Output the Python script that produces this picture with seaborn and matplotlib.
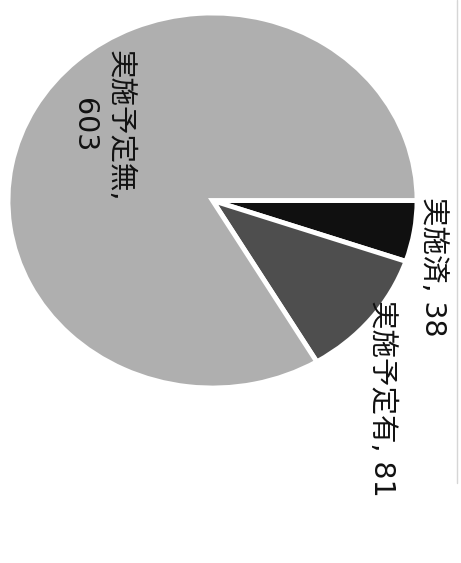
import numpy as np
import seaborn as sns
import matplotlib.pyplot as plt
from matplotlib.lines import Line2D

# Data
categories = ["実施済", "実施予定有", "実施予定無"]
counts = [38, 81, 603]
slice_colors = ["#101010", "#4e4e4e", "#afafaf"]

sns.set_theme(style="white")
# DejaVu first for the wide digits, CJK glyphs fall back to Noto
plt.rcParams["font.family"] = ["DejaVu Sans", "Noto Sans CJK JP"]

fig = plt.figure(figsize=(4.61, 5.63), dpi=100)
fig.patch.set_facecolor("white")

# axes placed so the pie fills the upper part of the page (scan is slightly squashed)
ax = fig.add_axes([8 / 461, 1 - 388 / 563, 409 / 461, 375 / 563])
wedges, _ = ax.pie(counts, colors=slice_colors, startangle=0, counterclock=False,
                   radius=1.0, wedgeprops={"edgecolor": "white", "linewidth": 3.5})
ax.set_aspect("auto")
ax.set_xlim(-1, 1)
ax.set_ylim(-1, 1)
ax.axis("off")

# labels, rotated like the scanned page (reading top to bottom)
labels = [f"{c}, {n}" for c, n in zip(categories, counts)]
ax.text(1.076, 0.02, labels[0], rotation=-90, ha="center", va="top",
        fontsize=20.5, color="#111111")
ax.text(0.83, -0.53, labels[1], rotation=-90, ha="center", va="top",
        fontsize=20.5, color="#111111")
ax.text(-0.54, 0.40, f"{categories[2]},\n{counts[2]}", rotation=-90,
        ha="center", va="center", multialignment="center",
        fontsize=20.5, color="#111111", linespacing=1.35)

# faint page edge from the scan
fig.add_artist(Line2D([0.991, 0.991], [0.142, 1.0], color="#d6d6d6", lw=1))

plt.savefig("out.png", dpi=100)
